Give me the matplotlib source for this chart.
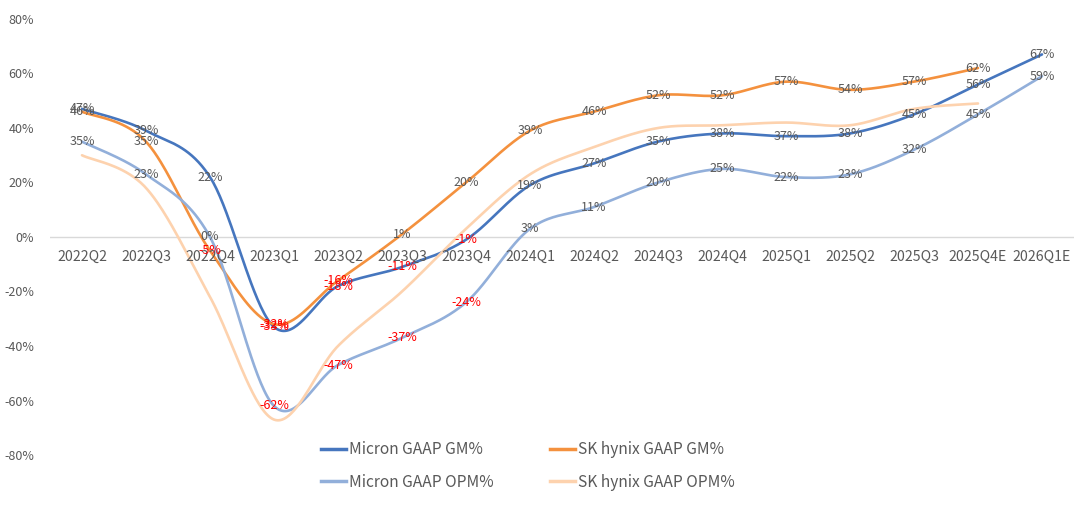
import numpy as np
import matplotlib as mpl; mpl.use("Agg")
import matplotlib.pyplot as plt
from matplotlib.lines import Line2D

plt.rcParams["font.family"] = ["Noto Sans CJK SC", "DejaVu Sans"]

# ---- data (percent) ----
quarters = ["2022Q2", "2022Q3", "2022Q4", "2023Q1", "2023Q2", "2023Q3", "2023Q4", "2024Q1",
            "2024Q2", "2024Q3", "2024Q4", "2025Q1", "2025Q2", "2025Q3", "2025Q4E", "2026Q1E"]
micron_gm = [47, 39, 22, -33, -18, -11, -1, 19, 27, 35, 38, 37, 38, 45, 56, 67]
skh_gm = [46, 35, -5, -32, -16, 1, 20, 39, 46, 52, 52, 57, 54, 57, 62]
micron_opm = [35, 23, 0, -62, -47, -37, -24, 3, 11, 20, 25, 22, 23, 32, 45, 59]
skh_opm = [30, 18, -22, -67, -40, -20, 3, 23, 33, 40, 41, 42, 41, 47, 49]   # no labels in source
yticks = [-80, -60, -40, -20, 0, 20, 40, 60, 80]

BLUE = "#4676BE"; ORANGE = "#F4913E"; LBLUE = "#92AFDA"; PEACH = "#FDD2AE"
GREY_TXT = "#595959"; RED = "#FF0000"


def smooth(vals, n=40):
    """Excel-style smoothed line (Catmull-Rom / Bezier through the points)."""
    y = np.asarray(vals, float); x = np.arange(len(y), dtype=float)
    P = np.column_stack([x, y])
    out = [P[:1]]
    for i in range(len(P) - 1):
        p0 = P[i - 1] if i > 0 else P[i]
        p1, p2 = P[i], P[i + 1]
        p3 = P[i + 2] if i + 2 < len(P) else P[i + 1]
        c1 = p1 + (p2 - p0) / 6.0
        c2 = p2 - (p3 - p1) / 6.0
        t = np.linspace(0, 1, n)[1:, None]
        seg = (1 - t) ** 3 * p1 + 3 * (1 - t) ** 2 * t * c1 + 3 * (1 - t) * t ** 2 * c2 + t ** 3 * p2
        out.append(seg)
    S = np.vstack(out)
    return S[:, 0], S[:, 1]


fig = plt.figure(figsize=(10.8, 5.08), dpi=100)
ax = fig.add_axes([50 / 1080, 1 - 455 / 508, 1024 / 1080, 436 / 508])

ax.axhline(0, color="#D9D9D9", lw=1.0, zorder=1)

series = [("Micron GAAP GM%", micron_gm, BLUE, True),
          ("SK hynix GAAP GM%", skh_gm, ORANGE, True),
          ("Micron GAAP OPM%", micron_opm, LBLUE, True),
          ("SK hynix GAAP OPM%", skh_opm, PEACH, False)]
handles = {}
for name, vals, col, lab in series:
    xs, ys = smooth(vals)
    ax.plot(xs, ys, color=col, lw=1.9, solid_capstyle="round", zorder=2)
    handles[name] = Line2D([0], [0], color=col, lw=2.5)
    if lab:
        for i, v in enumerate(vals):
            ax.text(i, v, f"{v}%", ha="center", va="center", fontsize=9,
                    color=RED if v < 0 else GREY_TXT, zorder=5)

for i, q in enumerate(quarters):
    ax.annotate(q, (i, 0), xytext=(0, -14.4), textcoords="offset points",
                ha="center", va="center", fontsize=10.2, color=GREY_TXT)

ax.set_xlim(-0.5, len(quarters) - 0.5)
ax.set_ylim(-80, 80)
ax.set_yticks(yticks)
ax.set_yticklabels([f"{t}%" for t in yticks], fontsize=9, color=GREY_TXT)
ax.set_xticks([])
ax.tick_params(axis="y", length=0, pad=11.5)
for s in ax.spines.values():
    s.set_visible(False)

order = ["Micron GAAP GM%", "Micron GAAP OPM%", "SK hynix GAAP GM%", "SK hynix GAAP OPM%"]
fig.legend([handles[k] for k in order], order, loc="center", ncol=2,
           bbox_to_anchor=(528 / 1080, 1 - 466 / 508), frameon=False,
           fontsize=11.2, handlelength=1.6, handletextpad=0.2, columnspacing=3.6,
           labelspacing=1.02, borderpad=0, labelcolor=GREY_TXT)

fig.savefig("out.png", dpi=100)
